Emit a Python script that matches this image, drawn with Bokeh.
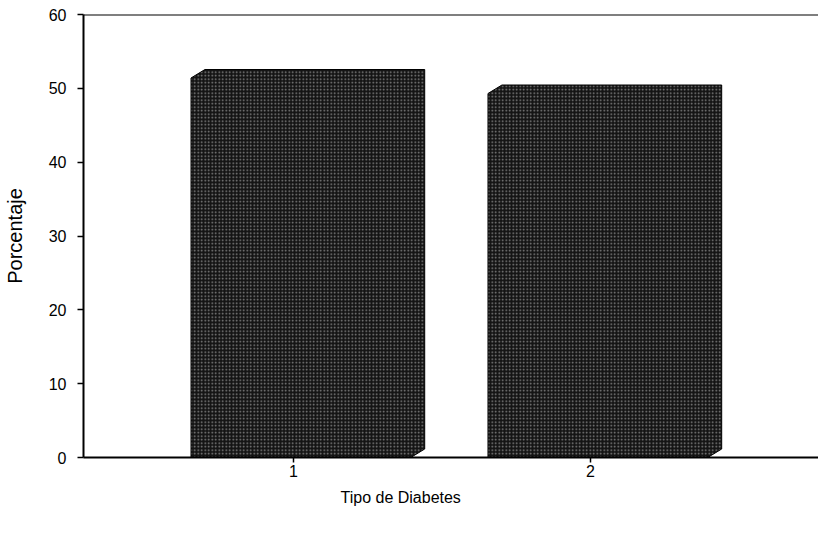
from bokeh.plotting import figure
from bokeh.models import Range1d, FixedTicker, Span, Title
from bokeh.embed import file_html
from bokeh.resources import INLINE

# data
categories = [1, 2]
tick_labels = ["1", "2"]
porcentaje = [51.4, 49.3]
y_ticks = [0, 10, 20, 30, 40, 50, 60]

# 3D styling parameters
bar_offset = 0.025
bar_width = 0.74
depth_dx = 0.047
depth_dy = 1.15

FONT = "Liberation Sans"

p = figure(width=818, height=537, output_backend="svg", toolbar_location=None,
           x_range=Range1d(0.293, 2.768), y_range=Range1d(0, 60),
           min_border_left=83, min_border_right=0, min_border_top=14, min_border_bottom=80)
p.xgrid.visible = False
p.ygrid.visible = False
p.outline_line_color = None
p.background_fill_color = "white"
p.border_fill_color = "white"

xs, ys = [], []
for c, v in zip(categories, porcentaje):
    x0 = c + bar_offset - bar_width / 2
    x1 = c + bar_offset + bar_width / 2
    xs.append([x0, x0, x0 + depth_dx, x1 + depth_dx, x1 + depth_dx, x1])
    ys.append([0, v, v + depth_dy, v + depth_dy, depth_dy, 0])

p.patches(xs, ys, fill_color="#141414", line_color="black", line_width=1,
          hatch_pattern="dot", hatch_color="#e6e6e6", hatch_alpha=0.55, hatch_scale=3.5, hatch_weight=0.9)

# top border line
p.add_layout(Span(location=60, dimension="width", line_color="black", line_width=2))

# y axis
p.yaxis.ticker = FixedTicker(ticks=y_ticks)
p.yaxis.minor_tick_line_color = None
p.yaxis.major_tick_out = 6
p.yaxis.major_tick_in = 0
p.yaxis.axis_line_width = 2
p.yaxis.major_tick_line_width = 1.5
p.yaxis.major_label_text_font = FONT
p.yaxis.major_label_text_font_size = "16px"
p.yaxis.major_label_text_color = "black"
p.yaxis.major_label_standoff = 11
p.yaxis.axis_label = "Porcentaje"
p.yaxis.axis_label_text_font = FONT
p.yaxis.axis_label_text_font_size = "20px"
p.yaxis.axis_label_text_font_style = "normal"
p.yaxis.axis_label_text_color = "black"
p.yaxis.axis_label_standoff = 20

# x axis
p.xaxis.ticker = FixedTicker(ticks=categories)
p.xaxis.major_label_overrides = {c: t for c, t in zip(categories, tick_labels)}
p.xaxis.minor_tick_line_color = None
p.xaxis.major_tick_out = 5
p.xaxis.major_tick_in = 0
p.xaxis.axis_line_width = 2
p.xaxis.major_tick_line_width = 1.5
p.xaxis.major_label_text_font = FONT
p.xaxis.major_label_text_font_size = "16px"
p.xaxis.major_label_text_color = "black"
p.xaxis.major_label_standoff = 2

p.add_layout(Title(text="Tipo de Diabetes", align="left", offset=257, standoff=14,
                   text_font=FONT, text_font_size="16px", text_font_style="normal",
                   text_color="black"), "below")

open("out.html", "w").write(file_html(p, INLINE))
